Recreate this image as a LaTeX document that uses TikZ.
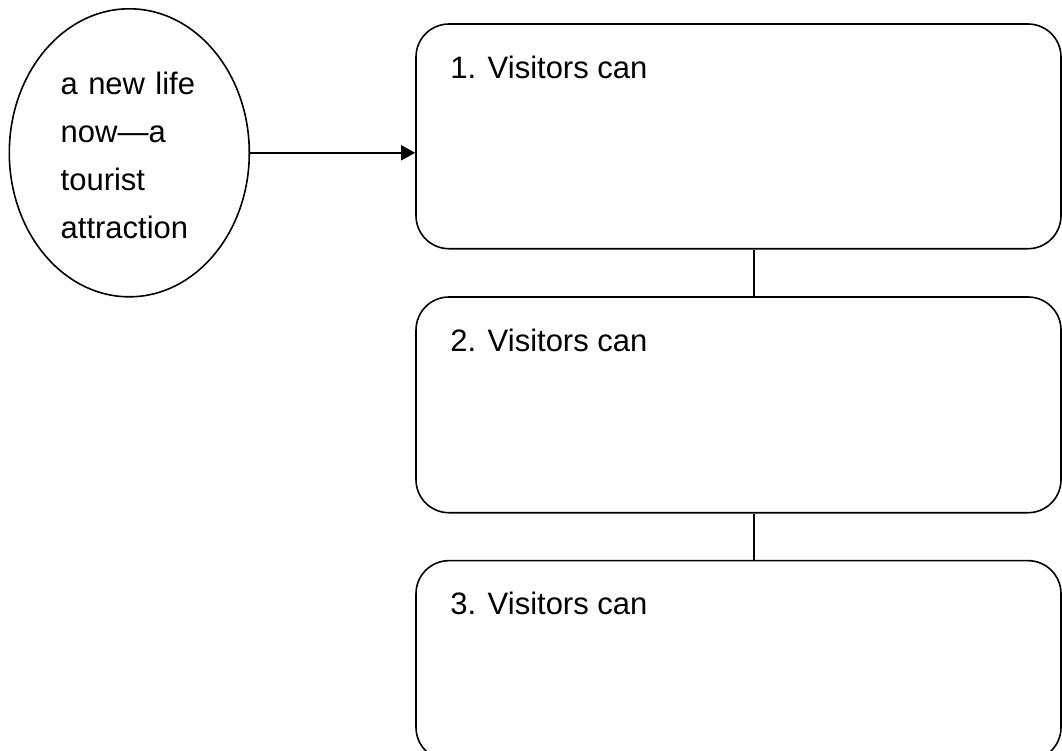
\documentclass[tikz,border=0pt]{standalone}
\usepackage{fontspec}
\setmainfont{Liberation Sans}
\usetikzlibrary{shapes.geometric,arrows.meta}
\tikzset{
  conn/.style={line width=1.6pt},
  stepbox/.style={draw, line width=1.6pt, rounded corners=33pt,
    minimum width=645pt, inner sep=0pt},
  steptext/.style={anchor=base west, inner sep=0pt, xshift=35pt, yshift=-55pt,
    font=\fontsize{31}{36}\selectfont},
}
\begin{document}
\begin{tikzpicture}[x=1pt,y=-1pt]
  \useasboundingbox (0,0) rectangle (1062,750);
  % central idea
  \node[draw, ellipse, line width=1.6pt, minimum width=240pt, minimum height=288pt,
        inner sep=0pt,
        label={[anchor=center, inner sep=0pt, text width=140pt, align=left,
                xshift=1.4pt, yshift=-2.7pt,
                font=\fontsize{31}{47.8}\selectfont]center:%
                a new life\\now\textemdash a\\tourist\\attraction}]
        (life) at (129.3,152.8) {};
  % three numbered steps
  \node[stepbox, minimum height=224.7pt,
        label={[steptext]north west:1. Visitors can}] (box1) at (738.5,136.35) {};
  \node[stepbox, minimum height=215.7pt,
        label={[steptext]north west:2. Visitors can}] (box2) at (738.5,404.85) {};
  \node[stepbox, minimum height=199.7pt,
        label={[steptext]north west:3. Visitors can}] (box3) at (738.5,660.5) {};
  \coordinate (link) at (753.7,0);
  % connectors
  \draw[conn, -{Triangle[length=14pt,width=15pt]}] (life.east) -- (life.east -| box1.west);
  \draw[conn] (box1.south -| link) -- (box2.north -| link);
  \draw[conn] (box2.south -| link) -- (box3.north -| link);
\end{tikzpicture}
\end{document}
